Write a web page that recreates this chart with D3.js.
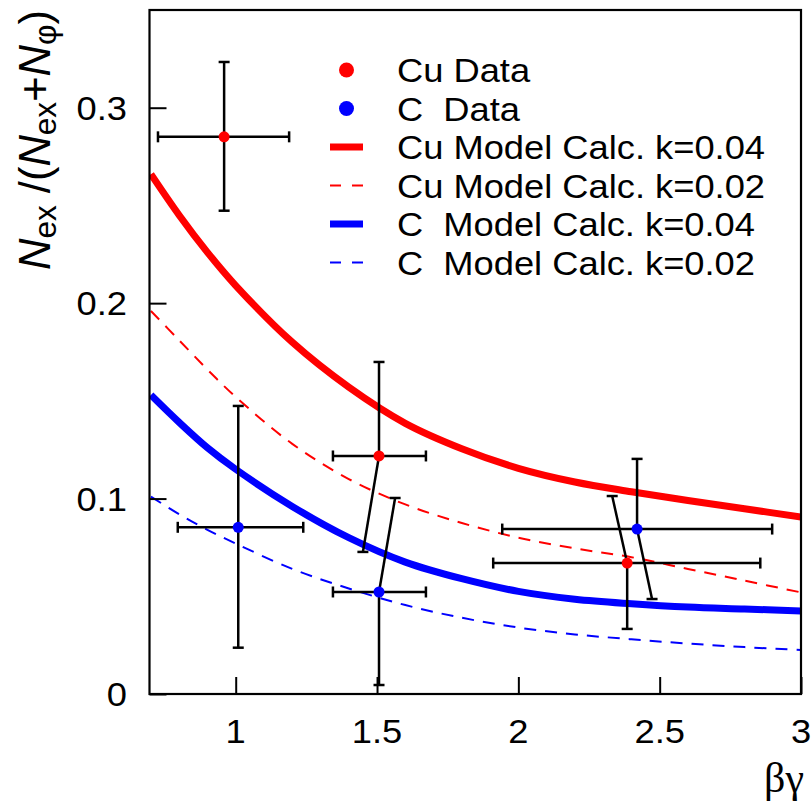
<!DOCTYPE html>
<html><head><meta charset="utf-8">
<script src="https://cdn.jsdelivr.net/npm/d3@7"></script>
<style>body{margin:0;background:#fff}svg{display:block}</style>
</head><body><svg id="c" width="811" height="804"></svg>
<script>
// ---- data ----
const curveX   = [0.70,0.80,0.90,1.00,1.20,1.40,1.60,1.80,2.00,2.20,2.40,2.60,2.80,3.00];
const cuK04    = [0.266,0.245,0.226,0.209,0.180,0.157,0.1385,0.1255,0.1155,0.1085,0.1035,0.0990,0.0948,0.0905];
const cuK02    = [0.196,0.181,0.166,0.152,0.128,0.110,0.097,0.0875,0.080,0.0745,0.070,0.064,0.058,0.052];
const cK04     = [0.153,0.139,0.126,0.115,0.096,0.080,0.0675,0.059,0.0525,0.0485,0.0462,0.0445,0.0435,0.0425];
const cK02     = [0.101,0.092,0.084,0.077,0.064,0.054,0.0455,0.039,0.034,0.0305,0.028,0.0258,0.024,0.0225];

const cuX      = [0.959,1.507,2.385];
const cuY      = [0.2851,0.1218,0.0670];
const cuXLo    = [0.725,1.344,1.911];
const cuXHi    = [1.189,1.673,2.856];
const cuYLo    = [0.2473,0.0727,0.0333];
const cuYHi    = [0.3234,0.1699,0.1013];
const cuYLoEndX= [0.959,1.450,2.385];
const cuYHiEndX= [0.959,1.507,2.332];

const cX       = [1.009,1.507,2.420];
const cY       = [0.0853,0.0522,0.0844];
const cXLo     = [0.795,1.344,1.943];
const cXHi     = [1.239,1.673,2.898];
const cYLo     = [0.0237,0.0046,0.0486];
const cYHi     = [0.1474,0.1003,0.1203];
const cYLoEndX = [1.009,1.507,2.473];
const cYHiEndX = [1.009,1.564,2.420];

const xTicks = [1,1.5,2,2.5,3];
const xTickLabels = ["1","1.5","2","2.5","3"];
const yTicks = [0,0.1,0.2,0.3];
const yTickLabels = ["0","0.1","0.2","0.3"];
const legendLabels = ["Cu Data","C  Data","Cu Model Calc. k=0.04","Cu Model Calc. k=0.02","C  Model Calc. k=0.04","C  Model Calc. k=0.02"];

// ---- layout ----
const L=149.5, R=801, T=10, B=694;
const x = d3.scaleLinear().domain([0.695,3.0]).range([L,R]);
const y = d3.scaleLinear().domain([0,0.35]).range([B,T]);
const svg = d3.select("#c");
const FONT = "'Liberation Sans', Arial, Helvetica, sans-serif";
const SX = 1.1;

svg.append("defs").append("clipPath").attr("id","clip")
  .append("rect").attr("x",L).attr("y",T).attr("width",R-L).attr("height",B-T);

// curves
const lineGen = d3.line().x(d=>x(d[0])).y(d=>y(d[1])).curve(d3.curveCatmullRom.alpha(0.5));
const curves = [
  {v:cuK04, color:"#ff0000", w:7, dash:null},
  {v:cuK02, color:"#ff0000", w:2, dash:"12,9"},
  {v:cK04,  color:"#0000ff", w:7, dash:null},
  {v:cK02,  color:"#0000ff", w:2, dash:"12,9"}
];
const gc = svg.append("g").attr("clip-path","url(#clip)");
curves.forEach(c=>{
  gc.append("path").datum(curveX.map((xx,i)=>[xx,c.v[i]]))
    .attr("d",lineGen).attr("fill","none").attr("stroke",c.color)
    .attr("stroke-width",c.w).attr("stroke-dasharray",c.dash);
});

// axes (ROOT style: ticks inside)
const tickLen = 17;
const ax = svg.append("g").attr("transform",`translate(0,${B})`)
  .call(d3.axisBottom(x).tickValues(xTicks).tickSize(-tickLen).tickFormat(""));
const ay = svg.append("g").attr("transform",`translate(${L},0)`)
  .call(d3.axisLeft(y).tickValues(yTicks).tickSize(-tickLen).tickFormat(""));
[ax,ay].forEach(g=>{
  g.select(".domain").remove();
  g.selectAll(".tick line").attr("stroke","#000").attr("stroke-width",2);
});
// frame
svg.append("rect").attr("x",L).attr("y",T).attr("width",R-L).attr("height",B-T)
  .attr("fill","none").attr("stroke","#000").attr("stroke-width",2.2);

function label(px,py,txt,anchor,size,family){
  svg.append("text").attr("transform",`translate(${px},${py}) scale(${SX},1)`)
    .attr("text-anchor",anchor).attr("font-family",family||FONT)
    .attr("font-size",size).attr("fill","#000").text(txt);
}
xTicks.forEach((t,i)=>label(x(t),743,xTickLabels[i],"middle",33));
yTicks.forEach((t,i)=>label(127,y(t)+12,yTickLabels[i],"end",33));

// x title
svg.append("text").attr("x",804).attr("y",792).attr("text-anchor","end")
  .attr("font-family","'Liberation Serif','Times New Roman',serif").attr("font-size",42)
  .text("βγ");

// y title
const yt = svg.append("text").attr("font-family",FONT).attr("font-size",44).attr("text-anchor","start");
const parts = [["N","it"],["ex","sub"],[" /(","n"],["N","it"],["ex","sub"],["+","n"],["N","it"],["φ","sub"],[")","n"]];
parts.forEach(p=>{
  const ts = yt.append("tspan").text(p[0]);
  if(p[1]==="it") ts.attr("font-style","italic");
  if(p[1]==="sub") ts.attr("font-size",32).attr("baseline-shift","-6px");
});
const len = yt.node().getComputedTextLength();
const target = 260;
yt.attr("transform",`translate(50,${10+target}) rotate(-90) scale(${target/len},1)`);

// error bars
const cap = 11;
const gE = svg.append("g").attr("stroke","#000").attr("stroke-width",2.5).attr("fill","none");
function errBars(X,Y,XLo,XHi,YLo,YHi,YLoEx,YHiEx){
  X.forEach((xv,i)=>{
    const px=x(xv), py=y(Y[i]);
    gE.append("line").attr("x1",x(XLo[i])).attr("x2",x(XHi[i])).attr("y1",py).attr("y2",py);
    gE.append("line").attr("x1",x(XLo[i])).attr("x2",x(XLo[i])).attr("y1",py-cap/2).attr("y2",py+cap/2);
    gE.append("line").attr("x1",x(XHi[i])).attr("x2",x(XHi[i])).attr("y1",py-cap/2).attr("y2",py+cap/2);
    const ux=x(YHiEx[i]), uy=y(YHi[i]), lx=x(YLoEx[i]), ly=y(YLo[i]);
    gE.append("line").attr("x1",px).attr("y1",py).attr("x2",ux).attr("y2",uy);
    gE.append("line").attr("x1",ux-cap/2).attr("x2",ux+cap/2).attr("y1",uy).attr("y2",uy);
    gE.append("line").attr("x1",px).attr("y1",py).attr("x2",lx).attr("y2",ly);
    gE.append("line").attr("x1",lx-cap/2).attr("x2",lx+cap/2).attr("y1",ly).attr("y2",ly);
  });
}
errBars(cuX,cuY,cuXLo,cuXHi,cuYLo,cuYHi,cuYLoEndX,cuYHiEndX);
errBars(cX,cY,cXLo,cXHi,cYLo,cYHi,cYLoEndX,cYHiEndX);
cuX.forEach((xv,i)=>svg.append("circle").attr("cx",x(xv)).attr("cy",y(cuY[i])).attr("r",5.5).attr("fill","#ff0000"));
cX.forEach((xv,i)=>svg.append("circle").attr("cx",x(xv)).attr("cy",y(cY[i])).attr("r",5.5).attr("fill","#0000ff"));

// legend
const rowY0=70, rowDy=38.5, symX0=330, symX1=363, txtX=397;
const legSyms = [
  {t:"dot",c:"#ff0000"},{t:"dot",c:"#0000ff"},
  {t:"line",c:"#ff0000",w:7},{t:"dash",c:"#ff0000",w:2},
  {t:"line",c:"#0000ff",w:7},{t:"dash",c:"#0000ff",w:2}
];
legendLabels.forEach((lab,i)=>{
  const ry = rowY0 + i*rowDy;
  const s = legSyms[i];
  if(s.t==="dot"){
    svg.append("circle").attr("cx",(symX0+symX1)/2).attr("cy",ry).attr("r",7.5).attr("fill",s.c);
  } else {
    svg.append("line").attr("x1",symX0).attr("x2",symX1).attr("y1",ry).attr("y2",ry)
      .attr("stroke",s.c).attr("stroke-width",s.w).attr("stroke-dasharray",s.t==="dash"?"11,11":null);
  }
  svg.append("text").attr("transform",`translate(${txtX},${ry+12}) scale(${SX},1)`)
    .attr("font-family",FONT).attr("font-size",33).attr("xml:space","preserve")
    .style("white-space","pre").text(lab);
});
</script></body></html>
